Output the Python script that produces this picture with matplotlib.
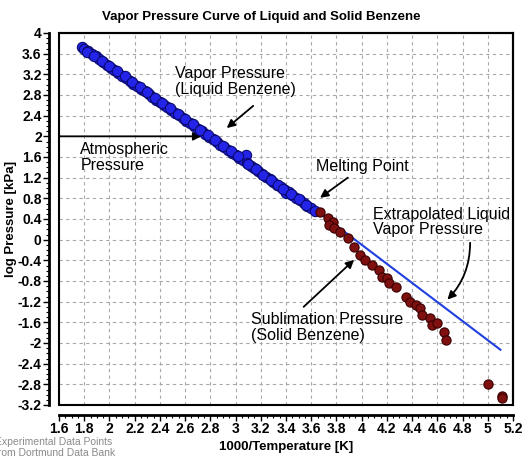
import numpy as np
import matplotlib.pyplot as plt
from matplotlib.patches import Rectangle
from matplotlib.ticker import MultipleLocator

plt.rcParams['font.family'] = ['Liberation Sans', 'DejaVu Sans']

# liquid benzene vapor pressure (blue points, first data set)
liq_x = [1.78, 1.80, 1.83, 1.86, 1.89, 1.92, 1.95, 1.98, 2.01, 2.04, 2.07, 2.10,
         2.13, 2.16, 2.19, 2.22, 2.25, 2.28, 2.31, 2.34, 2.37, 2.40, 2.43, 2.46,
         2.49, 2.52, 2.55, 2.58, 2.61, 2.64, 2.67, 2.70, 2.73, 2.76, 2.79, 2.82,
         2.85, 2.88, 2.91, 2.94, 2.97, 3.00, 3.03, 3.06, 3.08, 3.09, 3.12, 3.15,
         3.18, 3.21, 3.24, 3.27, 3.30, 3.33, 3.36, 3.39, 3.40, 3.42, 3.45, 3.48,
         3.51, 3.54, 3.57, 3.60, 3.63]
liq_y = [3.72, 3.69, 3.65, 3.60, 3.55, 3.49, 3.43, 3.38, 3.33, 3.28, 3.23, 3.17,
         3.12, 3.07, 3.02, 2.97, 2.92, 2.87, 2.82, 2.77, 2.71, 2.66, 2.61, 2.56,
         2.51, 2.46, 2.41, 2.35, 2.30, 2.25, 2.20, 2.15, 2.10, 2.05, 1.99, 1.94,
         1.89, 1.84, 1.79, 1.73, 1.68, 1.63, 1.58, 1.55, 1.64, 1.48, 1.43, 1.38,
         1.32, 1.27, 1.22, 1.17, 1.11, 1.06, 1.01, 0.96, 0.90, 0.92, 0.86, 0.81,
         0.76, 0.71, 0.66, 0.61, 0.56]

# liquid benzene vapor pressure (blue points, second data set)
liq2_x = [1.82, 1.88, 1.94, 2.00, 2.06, 2.12, 2.18, 2.24, 2.30, 2.36, 2.42, 2.48,
          2.54, 2.60, 2.66, 2.72, 2.78, 2.84, 2.90, 2.96, 3.02, 3.10, 3.16, 3.22,
          3.28, 3.34, 3.38, 3.44, 3.50, 3.56]
liq2_y = [3.64, 3.55, 3.46, 3.36, 3.26, 3.16, 3.05, 2.95, 2.85, 2.74, 2.64, 2.54,
          2.44, 2.33, 2.23, 2.13, 2.02, 1.92, 1.82, 1.71, 1.61, 1.47, 1.37, 1.26,
          1.16, 1.05, 0.99, 0.88, 0.78, 0.68]

# solid benzene sublimation pressure (red points)
sol_x = [3.67, 3.73, 3.77, 3.74, 3.78, 3.83, 3.89, 3.94, 3.99, 4.03, 4.08, 4.14,
         4.16, 4.20, 4.22, 4.27, 4.35, 4.38, 4.43, 4.46, 4.48, 4.54, 4.56, 4.60,
         4.65, 4.67, 5.00, 5.11, 5.11]
sol_y = [0.54, 0.42, 0.34, 0.29, 0.23, 0.15, 0.03, -0.14, -0.29, -0.39, -0.49, -0.58,
         -0.72, -0.74, -0.84, -0.91, -1.11, -1.20, -1.26, -1.32, -1.45, -1.51, -1.65, -1.61,
         -1.78, -1.94, -2.80, -3.02, -3.07]

# extrapolated liquid line
ext_x = [3.60, 5.10]
ext_y = [0.64, -2.13]

fig = plt.figure(figsize=(5.24, 4.58), dpi=100)
ax = fig.add_axes([59 / 524, 1 - 405 / 458, (513 - 59) / 524, (405 - 33) / 458])

ax.plot(ext_x, ext_y, color='#1f3fe0', lw=1.5, zorder=3)
ax.scatter(liq_x, liq_y, s=55, color='#2424e8', edgecolors='#0a0a70', linewidths=0.8, zorder=4)
ax.scatter(liq2_x, liq2_y, s=55, color='#2424e8', edgecolors='#0a0a70', linewidths=0.8, zorder=4)
ax.scatter(sol_x, sol_y, s=44, color='#7e1010', edgecolors='#3a0000', linewidths=0.8, zorder=4)

ax.set_xlim(1.6, 5.2)
ax.set_ylim(-3.2, 4.0)
ax.xaxis.set_major_locator(MultipleLocator(0.2))
ax.xaxis.set_minor_locator(MultipleLocator(0.05))
ax.yaxis.set_major_locator(MultipleLocator(0.4))
ax.yaxis.set_minor_locator(MultipleLocator(0.1))
ax.xaxis.set_major_formatter(lambda v, p: f'{v:g}')
ax.yaxis.set_major_formatter(lambda v, p: f'{v:g}')

ax.grid(True, which='major', color='#a8a8a8', linestyle=(0, (3, 3)), lw=0.8)
ax.set_axisbelow(True)

# detached left/bottom axis lines, plus the plot frame
for s in ('left', 'bottom'):
    ax.spines[s].set_position(('outward', 7))
    ax.spines[s].set_linewidth(2)
for s in ('top', 'right'):
    ax.spines[s].set_linewidth(1.5)
ax.add_patch(Rectangle((0, 0), 1, 1, transform=ax.transAxes, fill=False,
                       lw=1.5, edgecolor='black', clip_on=False, zorder=5))

ax.tick_params(which='major', direction='out', length=4, width=1, labelsize=10, pad=1.5)
ax.tick_params(which='minor', direction='out', length=2, width=0.8)
for lab in ax.get_xticklabels() + ax.get_yticklabels():
    lab.set_fontweight('bold')

ax.set_xlabel('1000/Temperature [K]', fontsize=9.5, fontweight='bold', labelpad=3)
ax.set_ylabel('log Pressure [kPa]', fontsize=9.5, fontweight='bold')
ax.yaxis.set_label_coords(-0.092, 0.5)
fig.text(261 / 524, 1 - 17 / 458, 'Vapor Pressure Curve of Liquid and Solid Benzene',
         fontsize=9.5, fontweight='bold', ha='center', va='center')

fs = 11.5
ax.text(2.52, 3.06, 'Vapor Pressure\n(Liquid Benzene)', fontsize=fs, va='center', linespacing=1.05)
ax.text(1.77, 1.585, 'Atmospheric\nPressure', fontsize=fs, va='center', linespacing=1.05)
ax.text(3.64, 1.41, 'Melting Point', fontsize=fs, va='center')
ax.text(4.09, 0.345, 'Extrapolated Liquid\nVapor Pressure', fontsize=fs, va='center', linespacing=1.05)
ax.text(3.12, -1.705, 'Sublimation Pressure\n(Solid Benzene)', fontsize=fs, va='center', linespacing=1.05)

arrow = dict(arrowstyle='-|>', color='black', lw=1.3, mutation_scale=12, shrinkA=0, shrinkB=0)
ax.annotate('', xy=(2.73, 2.0), xytext=(1.6, 2.0), arrowprops=arrow)
ax.annotate('', xy=(2.93, 2.16), xytext=(3.14, 2.59), arrowprops=arrow)
ax.annotate('', xy=(3.67, 0.81), xytext=(3.89, 1.20), arrowprops=arrow)
ax.annotate('', xy=(3.94, -0.39), xytext=(3.54, -1.30), arrowprops=arrow)
ax.annotate('', xy=(4.68, -1.16), xytext=(4.86, -0.06),
            arrowprops=dict(arrow, connectionstyle='arc3,rad=-0.2'))

fig.text(-0.01, 10.5 / 458, 'Experimental Data Points\nfrom Dortmund Data Bank',
         fontsize=7.5, color='#8a8a8a', va='center', ha='left', linespacing=1.15)

fig.savefig('out.png', dpi=100)
